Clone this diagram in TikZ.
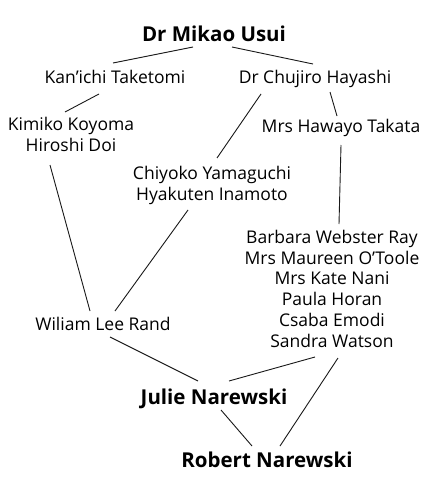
\documentclass[tikz,border=0pt]{standalone}
\usepackage{fontspec}
\setmainfont{Open Sans}
\usetikzlibrary{positioning}

\begin{document}
\begin{tikzpicture}[
    x=1pt, y=-1pt,
    member/.style={inner sep=0pt,anchor=base,align=center,
      font=\fontsize{17.5}{20.7}\selectfont},
    master/.style={inner sep=0pt,anchor=base,align=center,
      font=\fontsize{20.5}{23}\selectfont\bfseries},
    link/.style={line width=0.9pt,black!90}
  ]
    \useasboundingbox[fill=white] (0,0) rectangle (430,484);

    % stacked nodes sit on the baseline of their last line
    \node[master] (usui) at (214,42) {Dr Mikao Usui};
    \node[member] (kanichi) at (115,84) {Kan’ichi Taketomi};
    \node[member] (hayashi) at (315,84) {Dr Chujiro Hayashi};
    \node[member] (kimiko) at (71,151) {Kimiko Koyoma\\Hiroshi Doi};
    \node[member] (takata) at (341,132) {Mrs Hawayo Takata};
    \node[member] (chiyoko) at (212,200) {Chiyoko Yamaguchi\\Hyakuten Inamoto};
    \node[member] (barbara) at (332,347) {Barbara Webster Ray\\Mrs Maureen O’Toole\\Mrs Kate Nani\\Paula Horan\\Csaba Emodi\\Sandra Watson};
    \node[member] (rand) at (103,330) {Wiliam Lee Rand};
    \node[master] (julie) at (214,404) {Julie Narewski};
    \node[master] (robert) at (267,467) {Robert Narewski};

    \draw[link] ([shift={(-21,5)}]usui.base) -- ([shift={(-2,-21)}]kanichi.base);
    \draw[link] ([shift={(18,5)}]usui.base) -- ([shift={(-2,-20)}]hayashi.base);
    \draw[link] ([shift={(-16,10)}]kanichi.base) -- ([shift={(-6,-39)}]kimiko.base);
    \draw[link] ([shift={(-54,10)}]hayashi.base) -- ([shift={(5,-42)}]chiyoko.base);
    \draw[link] ([shift={(15,8)}]hayashi.base) -- ([shift={(-4,-16)}]takata.base);
    \draw[link] ([shift={(0,13)}]takata.base) -- ([shift={(7,-123)}]barbara.base);
    \draw[link] ([shift={(-21,14)}]kimiko.base) -- ([shift={(-13,-19)}]rand.base);
    \draw[link] ([shift={(-24,10)}]chiyoko.base) -- ([shift={(12,-19)}]rand.base);
    \draw[link] ([shift={(7,7)}]rand.base) -- ([shift={(-16,-23)}]julie.base);
    \draw[link] ([shift={(-17,10)}]barbara.base) -- ([shift={(15,-23)}]julie.base);
    \draw[link] ([shift={(6,11)}]barbara.base) -- ([shift={(13,-21)}]robert.base);
    \draw[link] ([shift={(7,6)}]julie.base) -- ([shift={(-15,-21)}]robert.base);
  \end{tikzpicture}
\end{document}
